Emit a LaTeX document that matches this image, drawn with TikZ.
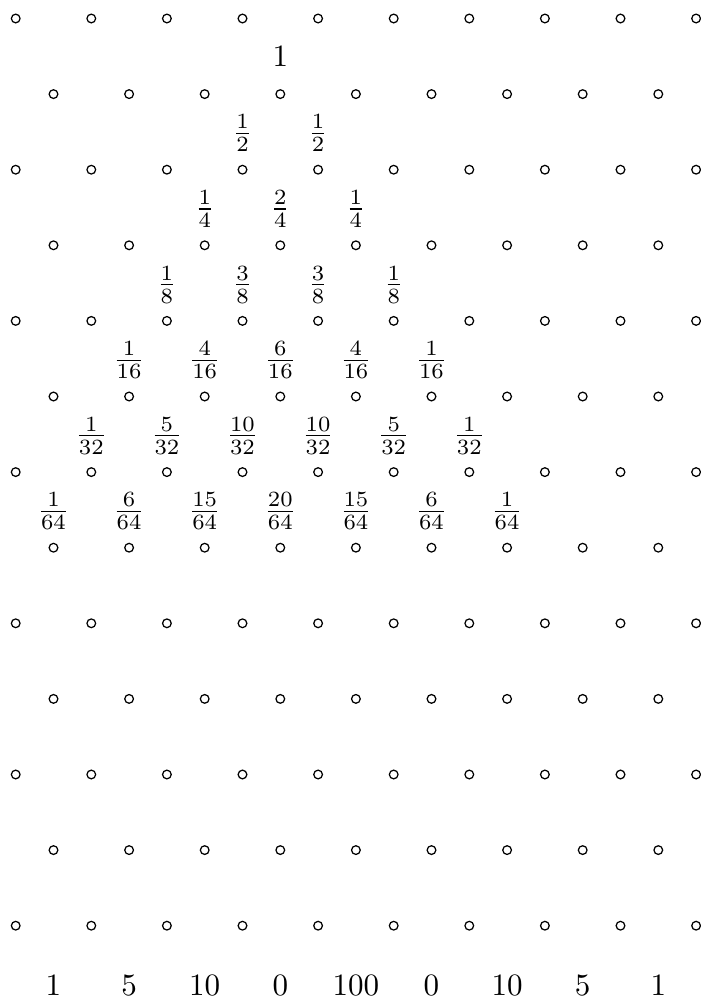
\documentclass[tikz,border=0pt]{standalone}
\begin{document}
\begin{tikzpicture}[x=0.855cm,y=0.855cm,
  peg/.style={circle,draw,line width=0.4pt,minimum size=2.8pt,inner sep=0pt},
  prob/.style={inner sep=0pt,font=\normalsize},
  binlabel/.style={inner sep=0pt}]
\useasboundingbox (0,0) rectangle (9.272,-13.228);
% pegs
\foreach \k in {0,2,...,12}{
  \foreach \i in {0,...,9}{
    \node[peg] (p-\k-\i) at ({0.2077+\i},{-(0.245+\k)}) {};
  }
}
\foreach \k in {1,3,...,11}{
  \foreach \i in {0,...,8}{
    \node[peg] (p-\k-\i) at ({0.7077+\i},{-(0.245+\k)}) {};
  }
}
% probabilities
\node[prob] (f-0-0) at (3.7077,-0.745) {$1$};
\foreach \n/\d/\list in {1/2/{1,1},2/4/{1,2,1},3/8/{1,3,3,1},4/16/{1,4,6,4,1},5/32/{1,5,10,10,5,1},6/64/{1,6,15,20,15,6,1}}{
  \foreach \v [count=\j from 0] in \list {
    \node[prob] (f-\n-\j) at ({3.7077-\n/2+\j},{-(0.765+\n)}) {$\frac{\v}{\d}$};
  }
}
% bottom labels
\foreach \v [count=\i from 0] in {1,5,10,0,100,0,10,5,1}{
  \node[binlabel] (b-\i) at ({0.7077+\i},-13.036) {$\v$};
}
\end{tikzpicture}
\end{document}
